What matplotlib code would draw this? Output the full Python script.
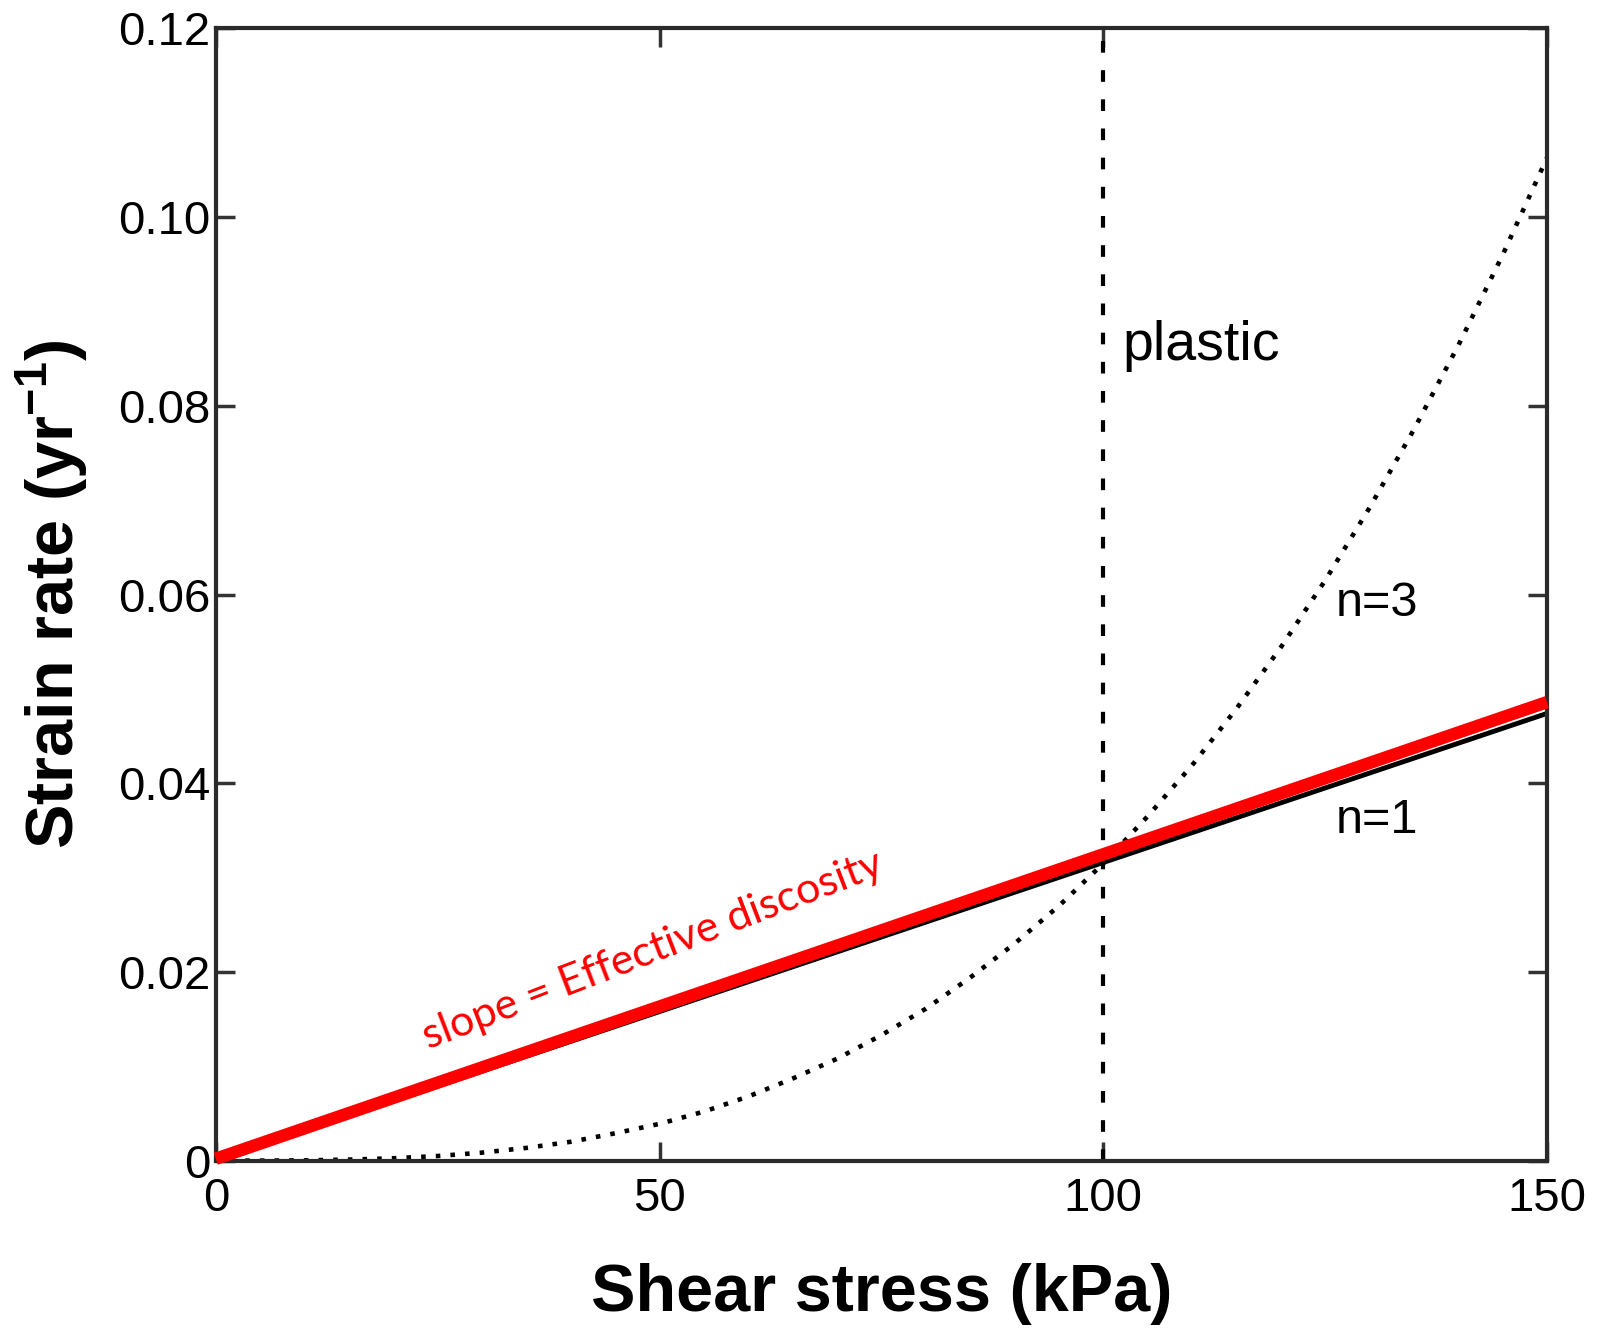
import matplotlib
matplotlib.use('Agg')
import matplotlib.pyplot as plt

plt.rcParams['font.family'] = ['Liberation Sans', 'DejaVu Sans']
plt.rcParams['mathtext.fontset'] = 'custom'
plt.rcParams['mathtext.rm'] = 'Liberation Sans'
plt.rcParams['mathtext.bf'] = 'Liberation Sans:bold'

# datos
stress = [0, 5, 10, 15, 20, 25, 30, 35, 40, 45, 50, 55, 60, 65, 70, 75,
          80, 85, 90, 95, 100, 105, 110, 115, 120, 125, 130, 135, 140, 145, 150]
rate_n3 = [0, 0.000004, 0.00003, 0.00011, 0.00025, 0.00049, 0.00085, 0.00135,
           0.0020, 0.0029, 0.0039, 0.0052, 0.0068, 0.0087, 0.0108, 0.0133,
           0.0161, 0.0194, 0.0230, 0.0270, 0.0315, 0.0365, 0.0419, 0.0479,
           0.0544, 0.0615, 0.0692, 0.0775, 0.0864, 0.0960, 0.1063]
rate_n1_x = [0, 150]
rate_n1 = [0, 0.0474]
slope_x = [0, 150]
slope_y = [0.0002, 0.0486]
plastic_x = 100
xticks = [0, 50, 100, 150]
yticks = [0, 0.02, 0.04, 0.06, 0.08, 0.10, 0.12]
ytick_labels = ['0', '0.02', '0.04', '0.06', '0.08', '0.10', '0.12']

fig = plt.figure(figsize=(15.99, 13.31), dpi=100)
ax = fig.add_axes([0.135, 0.128, 0.8325, 0.8506])

ax.plot(stress, rate_n3, color='black', linestyle=(0, (1, 2.2)), linewidth=3.3)
ax.plot(rate_n1_x, rate_n1, color='black', linewidth=3.5)
ax.axvline(plastic_x, color='black', linestyle=(0, (2.8, 4.2)), linewidth=3)
ax.plot(slope_x, slope_y, color='#ff0000', linewidth=9, solid_capstyle='butt',
        clip_on=False, zorder=5)

ax.text(102.1, 0.0863, 'plastic', fontsize=40, va='center', ha='left')
ax.text(126.2, 0.0591, 'n=3', fontsize=35, va='center', ha='left')
ax.text(126.2, 0.0360, 'n=1', fontsize=35, va='center', ha='left')
ax.text(24.0, 0.0118, 'slope = Effective discosity', color='#ff0000',
        fontsize=31, family=['Lato', 'DejaVu Sans'], rotation=21,
        rotation_mode='anchor', ha='left', va='baseline')

ax.set_xlim(0, 150)
ax.set_ylim(0, 0.12)
ax.set_xticks(xticks)
ax.set_xticklabels([str(t) for t in xticks])
ax.set_yticks(yticks)
ax.set_yticklabels(ytick_labels)
ax.tick_params(direction='in', length=14, width=2.5, labelsize=34,
               top=True, right=True, color='#333333')
ax.tick_params(axis='x', pad=12)
ax.tick_params(axis='y', pad=4)
for s in ax.spines.values():
    s.set_linewidth(3)
    s.set_color('#2a2a2a')

ax.set_xlabel('Shear stress (kPa)', fontsize=48, fontweight='bold', labelpad=30)
ax.set_ylabel(r'Strain rate (yr$^{\mathbf{-1}}$)', fontsize=48,
              fontweight='bold', labelpad=20)

fig.savefig('out.png', dpi=100)
